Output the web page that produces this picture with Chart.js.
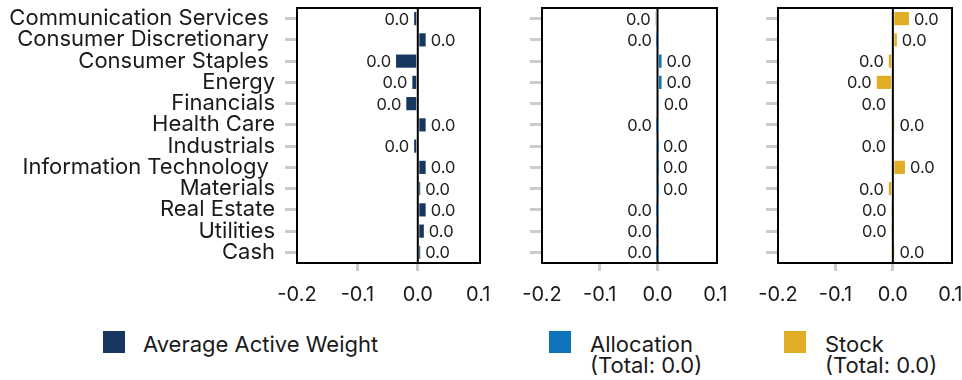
<!DOCTYPE html>
<html>
<head>
<meta charset="utf-8">
<script src="https://cdn.jsdelivr.net/npm/chart.js@4.4.1/dist/chart.umd.min.js"></script>
<style>
  html,body{margin:0;padding:0;background:#fff;}
  #wrap{position:relative;width:962px;height:380px;overflow:hidden;font-family:"Inter",sans-serif;color:#1a1a1a;}
  canvas{position:absolute;top:0;}
  .sw{position:absolute;width:22px;height:22px;}
  .lt{position:absolute;font-size:22px;line-height:21px;white-space:nowrap;}
</style>
</head>
<body>
<div id="wrap">
  <canvas id="c1" style="left:0px" width="490" height="320"></canvas>
  <canvas id="c2" style="left:490px" width="237" height="320"></canvas>
  <canvas id="c3" style="left:727px" width="235" height="320"></canvas>
  <div class="sw" style="left:103px;top:331px;background:#17375e"></div>
  <div class="lt" id="l1" style="left:143px;top:334px">Average Active Weight</div>
  <div class="sw" style="left:549px;top:331px;background:#0e75bb"></div>
  <div class="lt" id="l2" style="left:590px;top:334px">Allocation<br>(Total: 0.0)</div>
  <div class="sw" style="left:784px;top:331px;background:#e0ad25"></div>
  <div class="lt" id="l3" style="left:825px;top:334px">Stock<br>(Total: 0.0)</div>
</div>
<script>
// ---- data ----
const categories = ["Communication Services ", "Consumer Discretionary ", "Consumer Staples ", "Energy", "Financials", "Health Care", "Industrials", "Information Technology ", "Materials", "Real Estate", "Utilities", "Cash"];
const activeWeight = [-0.006, 0.013, -0.036, -0.009, -0.019, 0.013, -0.006, 0.013, 0.004, 0.013, 0.010, 0.004];
const allocation   = [-0.003, -0.001, 0.007, 0.007, 0.002, -0.001, 0.001, 0.001, 0.001, -0.001, -0.001, -0.001];
const stock        = [0.028, 0.007, -0.007, -0.028, -0.003, 0.003, -0.003, 0.021, -0.007, -0.002, -0.002, 0.003];
const valueLabels  = ["0.0","0.0","0.0","0.0","0.0","0.0","0.0","0.0","0.0","0.0","0.0","0.0"];
const xTicks = [-0.2, -0.1, 0.0, 0.1];
const xMin = -0.2, xMax = 0.103;

const FONT = "Inter";
const TXT = "#1a1a1a";

const framePlugin = {
  id: 'frame',
  beforeDatasetsDraw(chart) {
    const {ctx, chartArea: a, scales: {x}} = chart;
    const zx = x.getPixelForValue(0);
    ctx.save();
    ctx.strokeStyle = '#000'; ctx.lineWidth = 2;
    ctx.beginPath(); ctx.moveTo(zx, a.top); ctx.lineTo(zx, a.bottom); ctx.stroke();
    ctx.restore();
  },
  afterDatasetsDraw(chart) {
    const {ctx, chartArea: a} = chart;
    ctx.save();
    ctx.strokeStyle = '#000'; ctx.lineWidth = 2;
    ctx.strokeRect(a.left, a.top, a.right - a.left, a.bottom - a.top);
    const meta = chart.getDatasetMeta(0);
    const data = chart.data.datasets[0].data;
    ctx.font = '16.5px "' + FONT + '"';
    ctx.fillStyle = '#222';
    ctx.textBaseline = 'middle';
    meta.data.forEach((bar, i) => {
      const v = data[i];
      const lbl = valueLabels[i];
      if (v >= 0) { ctx.textAlign = 'left'; ctx.fillText(lbl, bar.x + 5, bar.y + 1); }
      else { ctx.textAlign = 'right'; ctx.fillText(lbl, bar.x - 5, bar.y + 1); }
    });
    ctx.restore();
  }
};

function makeChart(id, values, color, yWidth, showLabels) {
  return new Chart(document.getElementById(id), {
    type: 'bar',
    data: {
      labels: categories,
      datasets: [{ data: values, backgroundColor: color, borderWidth: 0,
                   categoryPercentage: 1, barPercentage: 0.62 }]
    },
    options: {
      indexAxis: 'y',
      responsive: false,
      animation: false,
      devicePixelRatio: 1,
      layout: { padding: { top: 8, right: 10, left: 0, bottom: 0 } },
      plugins: { legend: { display: false }, tooltip: { enabled: false } },
      scales: {
        y: {
          afterFit(s) { s.width = yWidth; s.paddingTop = 0; s.paddingBottom = 0; s.paddingLeft = 0; s.paddingRight = 0; },
          border: { display: false },
          grid: { offset: false, drawOnChartArea: false, drawTicks: true, tickLength: 12, color: '#c8cdd1', lineWidth: 3 },
          ticks: { display: showLabels, padding: 10, color: TXT, font: { family: FONT, size: 22 }, autoSkip: false }
        },
        x: {
          min: xMin, max: xMax,
          afterFit(s) { s.height = 57; s.paddingLeft = 0; s.paddingRight = 0; s.paddingTop = 0; s.paddingBottom = 0; },
          afterBuildTicks(s) { s.ticks = xTicks.map(v => ({ value: v })); },
          border: { display: false },
          grid: { drawOnChartArea: false, drawTicks: true, tickLength: 8, lineWidth: 3,
                  color: (c) => (c.tick && (Math.abs(c.tick.value + 0.1) < 1e-9 || Math.abs(c.tick.value) < 1e-9)) ? '#c8cdd1' : 'rgba(0,0,0,0)' },
          ticks: { padding: 12, color: TXT, font: { family: FONT, size: 20 }, maxRotation: 0,
                   callback: (v) => Number(v).toFixed(1) }
        }
      }
    },
    plugins: [framePlugin]
  });
}

makeChart('c1', activeWeight, '#17375e', 297, true);
makeChart('c2', allocation, '#0e75bb', 52, false);
makeChart('c3', stock, '#e0ad25', 51, false);
</script>
</body>
</html>
